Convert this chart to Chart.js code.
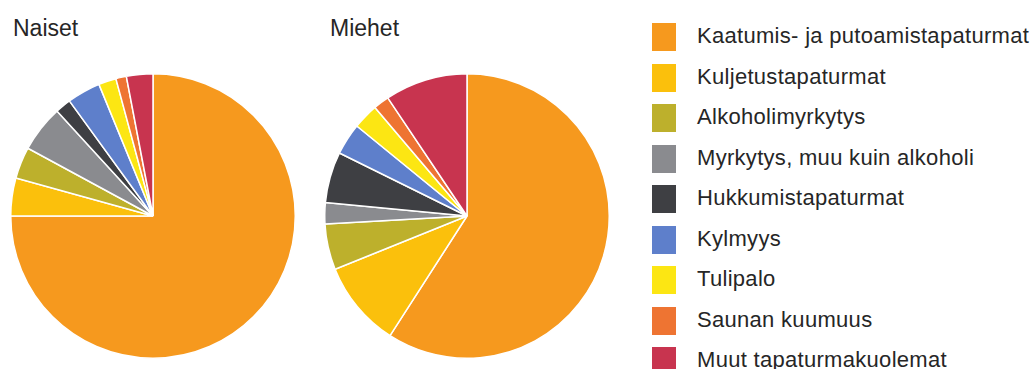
<!DOCTYPE html>
<html>
<head>
<meta charset="utf-8">
<script src="https://cdn.jsdelivr.net/npm/chart.js@4.4.0/dist/chart.umd.min.js"></script>
<style>
  html, body { margin: 0; padding: 0; background: #ffffff; }
  body { width: 1032px; height: 369px; position: relative; overflow: hidden;
         font-family: "Liberation Sans", Arial, sans-serif; color: #262626; }
  .title { position: absolute; font-size: 23px; line-height: 1; }
  .pie { position: absolute; width: 286px; height: 286px; }
  .legend { position: absolute; left: 652px; top: 23px; }
  .item { position: relative; height: 40.5px; }
  .box { position: absolute; left: 0; top: 0; width: 24px; height: 28px; }
  .label { position: absolute; left: 45px; top: 13px; transform: translateY(-50%);
           font-size: 22px; letter-spacing: 0.3px; white-space: nowrap; line-height: 1; }
</style>
</head>
<body>
<div class="title" style="left:13px; top:17px;">Naiset</div>
<div class="title" style="left:330px; top:17px;">Miehet</div>
<div class="pie" style="left:10px; top:73px;"><canvas id="c1" width="286" height="286"></canvas></div>
<div class="pie" style="left:324px; top:73px;"><canvas id="c2" width="286" height="286"></canvas></div>
<div class="legend" id="legend"></div>
<script>
const categories = [
  "Kaatumis- ja putoamistapaturmat",
  "Kuljetustapaturmat",
  "Alkoholimyrkytys",
  "Myrkytys, muu kuin alkoholi",
  "Hukkumistapaturmat",
  "Kylmyys",
  "Tulipalo",
  "Saunan kuumuus",
  "Muut tapaturmakuolemat"
];
const naiset = [75.0, 4.3, 3.6, 5.3, 1.8, 3.8, 2.0, 1.2, 3.0];
const miehet = [59.1, 9.8, 5.2, 2.4, 5.8, 3.6, 2.9, 1.8, 9.4];
const colors = ["#F6991E", "#FBC00C", "#BDB02C", "#8A8B8F", "#3E3F43", "#5E7FCB", "#FCE613", "#EE7432", "#C8344F"];

function makePie(id, values) {
  new Chart(document.getElementById(id), {
    type: 'pie',
    data: {
      labels: categories,
      datasets: [{ data: values, backgroundColor: colors, borderColor: '#ffffff', borderWidth: 1.5 }]
    },
    options: {
      responsive: false,
      maintainAspectRatio: false,
      animation: false,
      layout: { padding: 0 },
      plugins: { legend: { display: false }, tooltip: { enabled: false }, title: { display: false } }
    }
  });
}
makePie('c1', naiset);
makePie('c2', miehet);

const legend = document.getElementById('legend');
categories.forEach((cat, i) => {
  const item = document.createElement('div');
  item.className = 'item';
  const box = document.createElement('div');
  box.className = 'box';
  box.style.background = colors[i];
  const label = document.createElement('div');
  label.className = 'label';
  label.textContent = cat;
  item.appendChild(box);
  item.appendChild(label);
  legend.appendChild(item);
});
</script>
</body>
</html>
